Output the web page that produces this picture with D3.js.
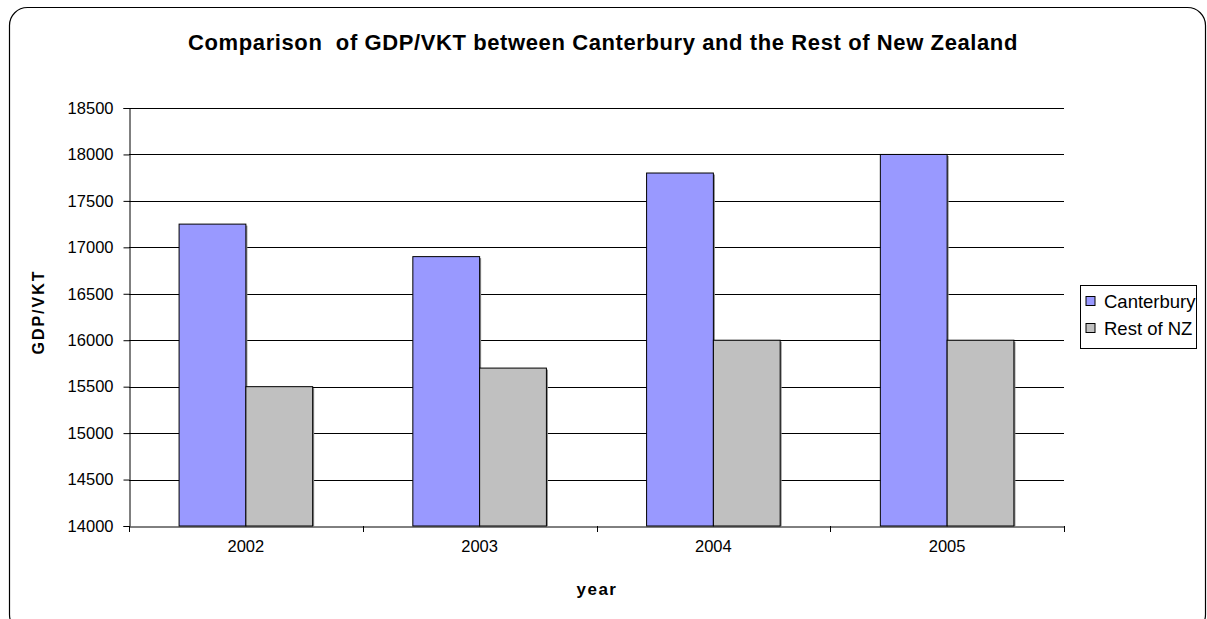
<!DOCTYPE html>
<html>
<head>
<meta charset="utf-8">
<script src="https://cdn.jsdelivr.net/npm/d3@7/dist/d3.min.js"></script>
<style>
  html, body { margin: 0; padding: 0; background: #fff; }
  svg { display: block; font-family: "Liberation Sans", Arial, sans-serif; }
</style>
</head>
<body>
<script>
// Data
const years = ["2002", "2003", "2004", "2005"];
const canterbury = [17250, 16900, 17800, 18000];
const restOfNZ = [15500, 15700, 16000, 16000];
const seriesNames = ["Canterbury", "Rest of NZ"];
const seriesColors = ["#9999ff", "#c0c0c0"];
const yTicks = [14000, 14500, 15000, 15500, 16000, 16500, 17000, 17500, 18000, 18500];

const W = 1207, H = 619;
const plot = { left: 129, right: 1064, top: 108, bottom: 526 };

const svg = d3.select("body").append("svg")
  .attr("width", W).attr("height", H);

// Chart frame with rounded corners
svg.append("rect")
  .attr("x", 9.5).attr("y", 7.5)
  .attr("width", 1196).attr("height", 625)
  .attr("rx", 18).attr("ry", 18)
  .attr("fill", "#fff").attr("stroke", "#000").attr("stroke-width", 1.2);

// Title
svg.append("text")
  .attr("x", 603).attr("y", 50)
  .attr("text-anchor", "middle")
  .attr("font-weight", "bold").attr("font-size", 22)
  .attr("letter-spacing", 0.6)
  .style("white-space", "pre")
  .text("Comparison  of GDP/VKT between Canterbury and the Rest of New Zealand");

const x0 = d3.scaleBand().domain(years).range([plot.left, plot.right]).paddingInner(0).paddingOuter(0);
const barW = x0.bandwidth() / 3.5;
const x1 = d3.scaleBand().domain(seriesNames).range([0, barW * 2]);
const y = d3.scaleLinear().domain([14000, 18500]).range([plot.bottom, plot.top]);

// Gridlines
svg.append("g").selectAll("line").data(yTicks.filter(t => t > 14000)).join("line")
  .attr("x1", plot.left).attr("x2", plot.right)
  .attr("y1", d => Math.round(y(d)) + 0.5).attr("y2", d => Math.round(y(d)) + 0.5)
  .attr("stroke", "#000").attr("stroke-width", 1);

// Bars
const groups = svg.append("g").selectAll("g").data(years).join("g")
  .attr("transform", d => `translate(${x0(d) + (x0.bandwidth() - barW * 2) / 2},0)`);

const barData = (yr, i) => [
  { name: seriesNames[0], value: canterbury[i], color: seriesColors[0] },
  { name: seriesNames[1], value: restOfNZ[i], color: seriesColors[1] }
];

groups.each(function(yr, i) {
  const g = d3.select(this);
  const data = barData(yr, i);
  // soft shadow on the right edge
  g.selectAll("rect.shadow").data(data).join("rect")
    .attr("class", "shadow")
    .attr("x", d => x1(d.name) + 1.5).attr("y", d => y(d.value) + 1.5)
    .attr("width", x1.bandwidth()).attr("height", d => plot.bottom - y(d.value) - 1.5)
    .attr("fill", "#888");
  g.selectAll("rect.bar").data(data).join("rect")
    .attr("class", "bar")
    .attr("x", d => x1(d.name)).attr("y", d => y(d.value))
    .attr("width", x1.bandwidth()).attr("height", d => plot.bottom - y(d.value))
    .attr("fill", d => d.color).attr("stroke", "#000").attr("stroke-width", 1);
});

// Y axis
const yAxis = svg.append("g")
  .attr("transform", `translate(${plot.left + 0.5},0)`)
  .call(d3.axisLeft(y).tickValues(yTicks).tickSize(6).tickPadding(10).tickFormat(d3.format("d")));
yAxis.select(".domain").attr("stroke", "#000");
yAxis.selectAll(".tick line").attr("stroke", "#000");
yAxis.selectAll("text").attr("font-size", 16.5).attr("fill", "#000")
  .attr("font-family", "'Liberation Sans', Arial, sans-serif");

// X axis
const xAxis = svg.append("g")
  .attr("transform", `translate(0,${plot.bottom + 0.5})`)
  .call(d3.axisBottom(x0).tickSize(0).tickPadding(14));
xAxis.select(".domain").attr("stroke", "#000");
xAxis.selectAll("text").attr("font-size", 16.5).attr("fill", "#000")
  .attr("font-family", "'Liberation Sans', Arial, sans-serif");
// category boundary ticks
svg.append("g").selectAll("line")
  .data(years.map(d => x0(d)).concat([plot.right]))
  .join("line")
  .attr("x1", d => Math.round(d) + 0.5).attr("x2", d => Math.round(d) + 0.5)
  .attr("y1", plot.bottom).attr("y2", plot.bottom + 6)
  .attr("stroke", "#000");

// Axis titles
svg.append("text")
  .attr("transform", "translate(44,312) rotate(-90)")
  .attr("text-anchor", "middle")
  .attr("font-weight", "bold").attr("font-size", 16)
  .attr("letter-spacing", 2)
  .text("GDP/VKT");
svg.append("text")
  .attr("x", 597).attr("y", 595)
  .attr("text-anchor", "middle")
  .attr("font-weight", "bold").attr("font-size", 17)
  .attr("letter-spacing", 1.5)
  .text("year");

// Legend
const legend = svg.append("g");
legend.append("rect")
  .attr("x", 1080.5).attr("y", 285.5).attr("width", 116).attr("height", 63)
  .attr("fill", "#fff").attr("stroke", "#000");
const items = legend.selectAll("g").data(seriesNames).join("g")
  .attr("transform", (d, i) => `translate(1086,${301 + i * 27})`);
items.append("rect")
  .attr("x", 0).attr("y", -4.5).attr("width", 9).attr("height", 9)
  .attr("fill", (d, i) => seriesColors[i]).attr("stroke", "#000");
items.append("text")
  .attr("x", 18).attr("y", 6.5)
  .attr("font-size", 18.5)
  .text(d => d);
</script>
</body>
</html>
